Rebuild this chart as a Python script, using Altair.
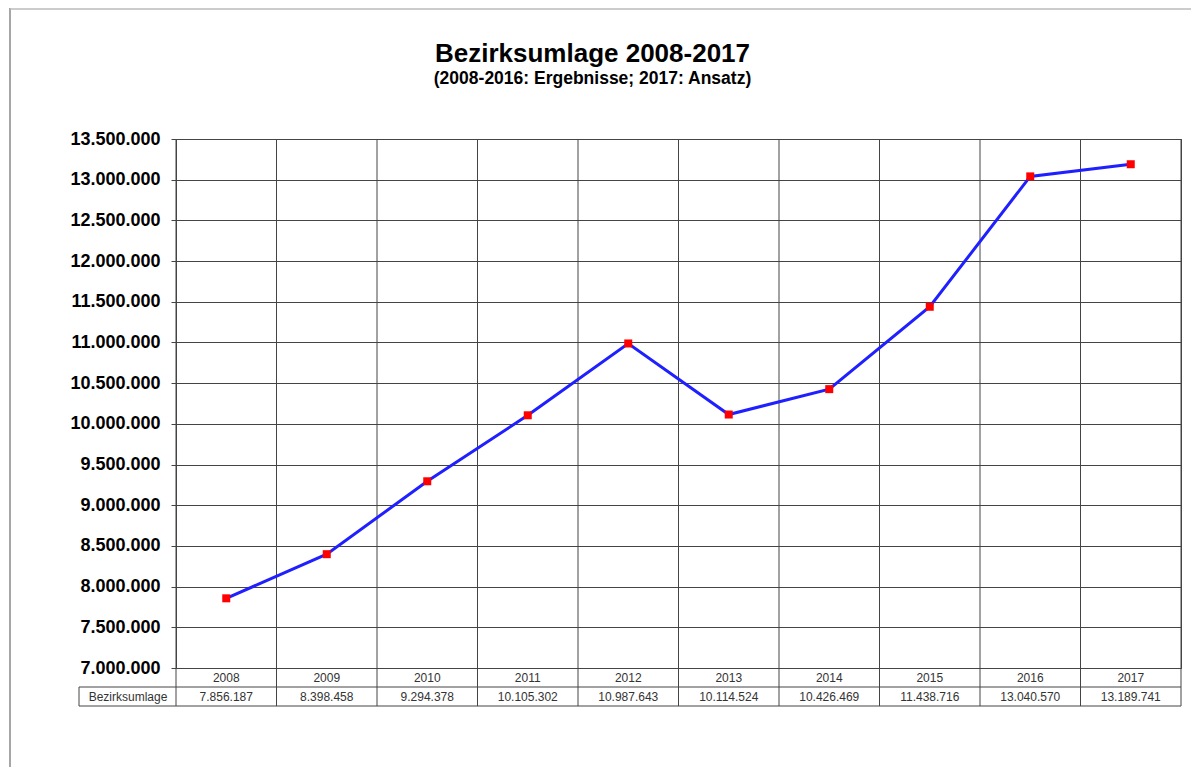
import altair as alt
import pandas as pd

years = ["2008", "2009", "2010", "2011", "2012", "2013", "2014", "2015", "2016", "2017"]
values = [7856187, 8398458, 9294378, 10105302, 10987643, 10114524, 10426469, 11438716, 13040570, 13189741]
row_label = "Bezirksumlage"
y_ticks = [7000000, 7500000, 8000000, 8500000, 9000000, 9500000, 10000000,
           10500000, 11000000, 11500000, 12000000, 12500000, 13000000, 13500000]
title_text = "Bezirksumlage 2008-2017"
subtitle_text = "(2008-2016: Ergebnisse; 2017: Ansatz)"


def de(n):
    return f"{n:,}".replace(",", ".")


df = pd.DataFrame({"year": years, "value": values, "label": [de(v) for v in values]})

W, H = 1005, 529
FONT = "Liberation Sans"
GRID = "#444444"

xscale = alt.Scale(paddingInner=0, paddingOuter=0)
x = alt.X("year:O", scale=xscale, axis=None)
y = alt.Y(
    "value:Q",
    scale=alt.Scale(domain=[7000000, 13500000], nice=False, zero=False),
    axis=alt.Axis(
        values=y_ticks,
        labelExpr="replace(format(datum.value, ',.0f'), regexp(',', 'g'), '.')",
        labelFont=FONT, labelFontSize=18, labelFontWeight="bold", labelColor="black",
        labelPadding=11, tickSize=5, tickColor=GRID, domain=False,
        grid=True, gridColor=GRID, gridWidth=1, gridOpacity=1, title=None,
    ),
)

base = alt.Chart(df)

vlines = base.mark_rule(color=GRID, strokeWidth=1).encode(
    x=alt.X("year:O", scale=xscale, axis=None, bandPosition=0),
    y=alt.value(0), y2=alt.value(H + 38),
)

line = base.mark_line(color="#1f1fff", strokeWidth=3).encode(x=x, y=y)
points = base.mark_square(size=64, color="#ff0000", opacity=1).encode(x=x, y=y)

year_text = base.mark_text(font=FONT, fontSize=12, color="#333333", baseline="middle").encode(
    x=x, y=alt.value(H + 10), text="year:N"
)
val_text = base.mark_text(font=FONT, fontSize=12, color="#333333", baseline="middle").encode(
    x=x, y=alt.value(H + 29), text="label:N"
)

one = alt.Data(values=[{"t": row_label}])
hline1 = alt.Chart(one).mark_rule(color=GRID, strokeWidth=1).encode(
    x=alt.value(-97), x2=alt.value(W), y=alt.value(H + 19)
)
hline2 = alt.Chart(one).mark_rule(color=GRID, strokeWidth=1).encode(
    x=alt.value(-97), x2=alt.value(W), y=alt.value(H + 38)
)
cell_left = alt.Chart(one).mark_rule(color=GRID, strokeWidth=1).encode(
    x=alt.value(-97), y=alt.value(H + 19), y2=alt.value(H + 38)
)
right_edge = alt.Chart(one).mark_rule(color=GRID, strokeWidth=1).encode(
    x=alt.value(W), y=alt.value(0), y2=alt.value(H + 38)
)
row_text = alt.Chart(one).mark_text(font=FONT, fontSize=12, color="#333333", baseline="middle").encode(
    x=alt.value(-48), y=alt.value(H + 29), text="t:N"
)
frame_left = alt.Chart(one).mark_rule(color="#888888", strokeWidth=1.5).encode(
    x=alt.value(-166), y=alt.value(-131), y2=alt.value(H + 99)
)
frame_top = alt.Chart(one).mark_rule(color="#bbbbbb", strokeWidth=1.5).encode(
    x=alt.value(-166), x2=alt.value(W + 10), y=alt.value(-130)
)

chart = alt.layer(
    vlines, hline1, hline2, cell_left, right_edge, frame_left, frame_top,
    line, points, year_text, val_text, row_text,
).properties(
    width=W, height=H,
    title=alt.Title(
        text=title_text, subtitle=subtitle_text,
        font=FONT, fontSize=26, fontWeight="bold", color="black",
        subtitleFont=FONT, subtitleFontSize=17.5, subtitleFontWeight="bold", subtitleColor="black",
        subtitlePadding=3, anchor="middle", frame="group", dx=-86, offset=-80,
    ),
    autosize=alt.AutoSizeParams(type="none"),
    padding={"left": 168, "top": 131, "right": 10, "bottom": 99},
).configure_view(stroke=GRID, strokeWidth=1)

chart.save("out.html", embed_options={"renderer": "svg", "actions": False})
